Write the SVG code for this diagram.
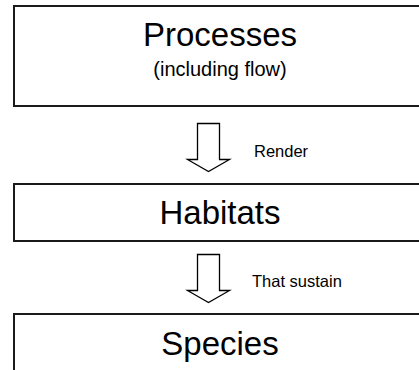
<svg xmlns="http://www.w3.org/2000/svg" width="419" height="370" viewBox="0 0 419 370">
<style>
.box{fill:#fff;stroke:#1a1a1a;stroke-width:2}
.arrow{fill:#fff;stroke:#000;stroke-width:1.3;stroke-linejoin:miter}
text{font-family:"Liberation Sans",Arial,sans-serif;fill:#000}
.big{font-size:33px;text-anchor:middle}
.small{font-size:20px;text-anchor:middle}
.lbl{font-size:16.5px}
</style>
<rect width="419" height="370" fill="#fff"/>
<g id="processes">
<rect class="box" x="14" y="6" width="420" height="100"/>
<text class="big" x="220" y="45.5">Processes</text>
<text class="small" x="220" y="75.5">(including flow)</text>
</g>
<g id="habitats">
<rect class="box" x="14" y="184" width="420" height="57"/>
<text class="big" x="220" y="223.5">Habitats</text>
</g>
<g id="species">
<rect class="box" x="14" y="314" width="420" height="70"/>
<text class="big" x="220" y="355">Species</text>
</g>
<g id="connectors">
<polygon class="arrow" points="197.5,123.5 219.5,123.5 219.5,159.5 229.5,159.5 208.5,171.5 187.5,159.5 197.5,159.5"/>
<text class="lbl" x="254" y="157">Render</text>
<polygon class="arrow" points="197.5,254.5 219.5,254.5 219.5,290.5 229.5,290.5 208.5,302.5 187.5,290.5 197.5,290.5"/>
<text class="lbl" x="252" y="287">That sustain</text>
</g>
</svg>
